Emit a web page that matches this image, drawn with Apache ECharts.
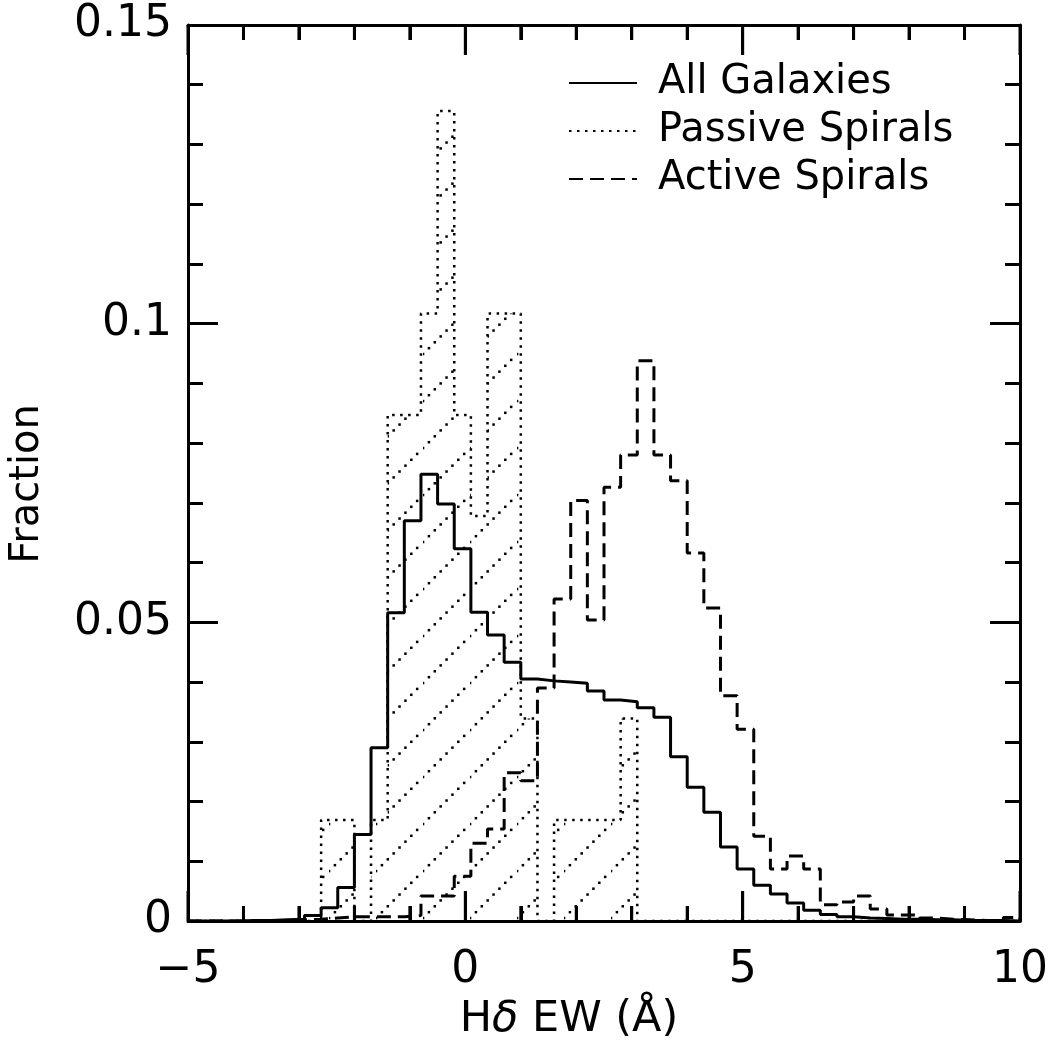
<!DOCTYPE html>
<html>
<head>
<meta charset="utf-8">
<script src="https://cdn.jsdelivr.net/npm/echarts@6/dist/echarts.min.js"></script>
<style>
html,body{margin:0;padding:0;background:#fff;}
#chart{width:1055px;height:1040px;}
</style>
</head>
<body>
<div id="chart"></div>
<script>
// Histogram bin edges (H-delta EW, Angstrom)
const binEdges = [-5.0,-4.7,-4.4,-4.1,-3.8,-3.5,-3.2,-2.9,-2.6,-2.3,-2.0,-1.7,-1.4,-1.1,-0.8,-0.5,-0.2,0.1,0.4,0.7,1.0,1.3,1.6,1.9,2.2,2.5,2.8,3.1,3.4,3.7,4.0,4.3,4.6,4.9,5.2,5.5,5.8,6.1,6.4,6.7,7.0,7.3,7.6,7.9,8.2,8.5,8.8,9.1,9.4,9.7,10.0];

const allGalaxies = [0,0,0,0.0001,0.0001,0.0002,0.0003,0.0009,0.0022,0.0056,
  0.0145,0.029,0.0516,0.067,0.0748,0.0698,0.0623,0.0517,0.0479,0.0433,
  0.0405,0.0402,0.0400,0.0398,0.0385,0.037,0.0367,0.0357,0.0341,0.0275,
  0.0224,0.0182,0.0124,0.0087,0.006,0.0045,0.003,0.0018,0.0011,0.0007,
  0.0005,0.0004,0.0003,0.0003,0.0002,0.0002,0.0001,0.0001,0.0001,0];

const passiveSpirals = [0,0,0,0,0,0,0,0,0.0169,0.0169,
  0,0.0169,0.0847,0.0847,0.1017,0.1356,0.0847,0.0678,0.1017,0.1017,
  0.0339,0,0.0169,0.0169,0.0169,0.0169,0.0339,0,0,0,
  0,0,0,0,0,0,0,0,0,0,
  0,0,0,0,0,0,0,0,0,0];

const activeSpirals = [0,0,0,0,0,0,0.0002,0.0003,0.0005,0.0007,
  0.0007,0.0007,0.0007,0.0009,0.0042,0.0042,0.0075,0.013,0.0154,0.0248,
  0.0235,0.039,0.0539,0.0704,0.0504,0.0726,0.078,0.0938,0.078,0.0737,
  0.0616,0.0524,0.0377,0.0321,0.0142,0.0087,0.0109,0.0087,0.0027,0.0032,
  0.0042,0.002,0.001,0.001,0.0005,0.0003,0.0002,0.0001,0,0.0006];

const seriesNames = ['All Galaxies','Passive Spirals','Active Spirals'];
const xTickValues = [-5, 0, 5, 10];
const xTickLabels = ['\u22125', '0', '5', '10'];
const xMinorTickValues = [-4, -3, -2, -1, 1, 2, 3, 4, 6, 7, 8, 9];
const yTickValues = [0, 0.05, 0.1, 0.15];
const yTickLabels = ['0', '0.05', '0.1', '0.15'];

function stepData(vals) {
  const pts = [[binEdges[0], 0]];
  for (let k = 0; k < vals.length; k++) pts.push([binEdges[k], vals[k]]);
  pts.push([binEdges[binEdges.length - 1], 0]);
  return pts;
}
function lookup(values, labels, v) {
  const i = values.findIndex(t => Math.abs(t - v) < 1e-9);
  return i >= 0 ? labels[i] : '';
}

// dotted diagonal hatch pattern
const tile = 47;
const pc = document.createElement('canvas');
pc.width = tile; pc.height = tile;
const pctx = pc.getContext('2d');
pctx.fillStyle = '#000';
const phase = 25;
for (let i = 0; i < 8; i++) {
  const x = i * tile / 8;
  const y = (((phase - x) % tile) + tile) % tile;
  pctx.fillRect(x - 1.2, y - 1.2, 2.5, 2.5);
}

const FONT = 'DejaVu Sans';
const chart = echarts.init(document.getElementById('chart'), null, {renderer: 'canvas'});

function axisCommon() {
  return {
    axisLine: {show: true, onZero: false, lineStyle: {color: '#000', width: 3}},
    axisTick: {show: true, inside: true, length: 30, lineStyle: {color: '#000', width: 3}},
    minorTick: {show: true, splitNumber: 5, length: 15, lineStyle: {color: '#000', width: 3}},
    splitLine: {show: false}
  };
}

const tickData = xTickValues.map(v => [v, 1]).concat(xMinorTickValues.map(v => [v, 0]));

chart.setOption({
  animation: false,
  backgroundColor: '#fff',
  grid: {left: 188, right: 35, top: 25, bottom: 119, outerBoundsMode: 'none'},
  legend: {
    orient: 'vertical', left: 563, top: 58,
    itemWidth: 68, itemHeight: 20, itemGap: 8,
    data: seriesNames,
    itemStyle: {opacity: 0},
    textStyle: {fontFamily: FONT, fontSize: 40, color: '#000', padding: [0, 0, 0, 16], lineHeight: 40},
    selectedMode: false
  },
  xAxis: [
    Object.assign(axisCommon(), {
      type: 'value', position: 'bottom', min: -5, max: 10, interval: 5,
      name: 'H{d|\u03b4} EW (\u00c5)', nameLocation: 'middle', nameGap: 75,
      nameTextStyle: {fontFamily: FONT, fontSize: 43, color: '#000', padding: [0, 70, 0, 0],
        rich: {d: {fontFamily: FONT, fontSize: 43, fontStyle: 'italic', color: '#000'}}},
      axisLabel: {show: true, margin: 28, fontFamily: FONT, fontSize: 44, color: '#000',
        formatter: v => lookup(xTickValues, xTickLabels, v)}
    }),
    Object.assign(axisCommon(), {
      type: 'value', position: 'top', min: -5, max: 10, interval: 5,
      axisLabel: {show: false}
    })
  ],
  yAxis: [
    Object.assign(axisCommon(), {
      type: 'value', position: 'left', min: 0, max: 0.15, interval: 0.05,
      name: 'Fraction', nameLocation: 'middle', nameGap: 140, nameRotate: 90,
      nameTextStyle: {fontFamily: FONT, fontSize: 40, color: '#000', padding: [0, 22, 0, 0]},
      axisLabel: {show: true, margin: 16, fontFamily: FONT, fontSize: 44, color: '#000',
        formatter: v => lookup(yTickValues, yTickLabels, v)}
    }),
    Object.assign(axisCommon(), {
      type: 'value', position: 'right', min: 0, max: 0.15, interval: 0.05,
      axisLabel: {show: false}
    })
  ],
  series: [
    {
      name: seriesNames[1], type: 'line', step: 'end', symbol: 'none', z: 2,
      data: stepData(passiveSpirals),
      lineStyle: {color: '#000', width: 2.5, type: [2.5, 5.5], cap: 'butt'},
      itemStyle: {color: '#000'},
      areaStyle: {color: {image: pc, repeat: 'repeat'}, opacity: 1}
    },
    {
      name: seriesNames[2], type: 'line', step: 'end', symbol: 'none', z: 3,
      data: stepData(activeSpirals),
      lineStyle: {color: '#000', width: 3, type: [14, 7]},
      itemStyle: {color: '#000'}
    },
    {
      name: seriesNames[0], type: 'line', step: 'end', symbol: 'none', z: 4,
      data: stepData(allGalaxies),
      lineStyle: {color: '#000', width: 3},
      itemStyle: {color: '#000'}
    },
    {
      name: 'xticks', type: 'custom', silent: true, clip: false, z: 10,
      data: tickData,
      encode: {x: 0},
      renderItem: function (params, api) {
        const x = api.value(0);
        const len = api.value(1) === 1 ? 30 : 15;
        const pb = api.coord([x, 0]);
        const pt = api.coord([x, 0.15]);
        const st = {stroke: '#000', lineWidth: 3};
        return {type: 'group', children: [
          {type: 'line', shape: {x1: pb[0], y1: pb[1], x2: pb[0], y2: pb[1] - len}, style: st},
          {type: 'line', shape: {x1: pt[0], y1: pt[1], x2: pt[0], y2: pt[1] + len}, style: st}
        ]};
      }
    }
  ]
});
</script>
</body>
</html>
